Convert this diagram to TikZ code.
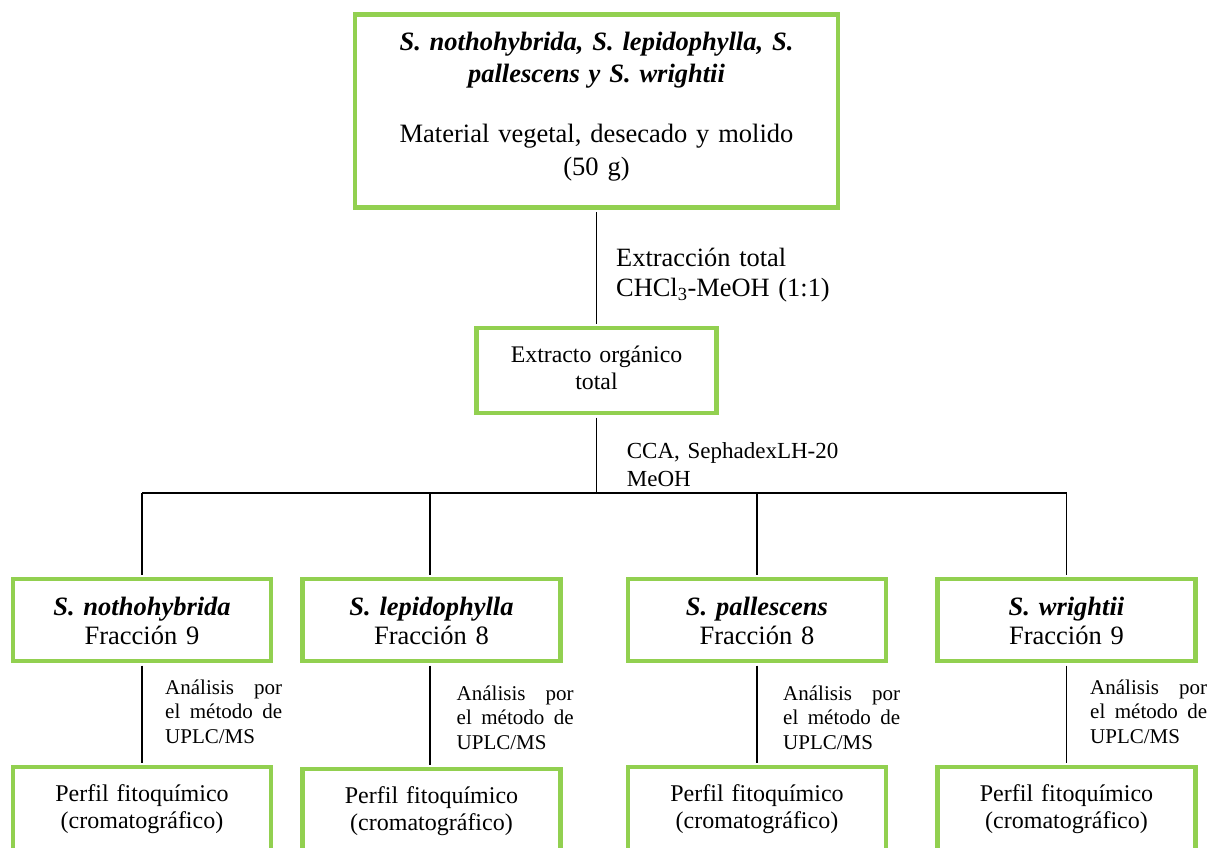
\documentclass[tikz,border=0pt]{standalone}
\usepackage{fontspec}
\setmainfont{Liberation Serif}
\definecolor{leaf}{HTML}{92D050}
\begin{document}
\begin{tikzpicture}[x=1pt,y=-1pt,
  gbox/.style={draw=leaf, line width=4.5pt, rectangle, inner sep=0pt},
  fracbox/.style={gbox, minimum width=258pt, minimum height=82pt},
  profbox/.style={gbox, minimum width=258pt, minimum height=110pt},
  wire/.style={draw=black, line width=1.5pt, shorten <=2.25pt, shorten >=2.25pt},
  busline/.style={draw=black, line width=1.5pt},
  ctext/.style={inner sep=0pt, anchor=base, text width=#1, align=center},
  ltext/.style={inner sep=0pt, anchor=base west, text width=#1, align=left},
  jtext/.style={inner sep=0pt, anchor=base west, text width=117pt, align=justify,
    font=\fontsize{21}{24.5}\selectfont},
]
\useasboundingbox (0,0) rectangle (1211,847);
\clip (0,0) rectangle (1211,847);

% boxes
\node[gbox, minimum width=483pt, minimum height=193pt] (top) at (596.5,111) {};
\node[gbox, minimum width=240pt, minimum height=85pt] (ext) at (596.5,370.5) {};
\node[fracbox] (f1) at (142,620) {};
\node[fracbox] (f2) at (431.5,620) {};
\node[fracbox] (f3) at (757,620) {};
\node[fracbox] (f4) at (1066.5,620) {};
\node[profbox] (p1) at (142,822) {};
\node[profbox] (p2) at (431.5,824) {};
\node[profbox] (p3) at (757,822) {};
\node[profbox] (p4) at (1066.5,822) {};

% texts inside boxes
\node[ctext=470pt, font=\fontsize{26.5}{32.5}\selectfont] (toptxt) at (596.5,50)
  {\textbf{\textit{S. nothohybrida, S. lepidophylla, S.}}\\
   \textbf{\textit{pallescens y S. wrightii}}\\[27.5pt]
   Material vegetal, desecado y molido\\ (50 g)};
\node[ctext=230pt, font=\fontsize{23.8}{27}\selectfont] (exttxt) at (596.5,362)
  {Extracto orgánico\\ total};
\foreach \n/\x/\sp/\fr in {1/142/S. nothohybrida/9, 2/431.5/S. lepidophylla/8,
                           3/757/S. pallescens/8, 4/1066.5/S. wrightii/9}{
  \node[ctext=250pt, font=\fontsize{26.5}{29}\selectfont] (f\n txt) at (\x,615)
    {\textbf{\textit{\sp}}\\ Fracción \fr};
}
\node[ctext=250pt, font=\fontsize{24}{27}\selectfont] (p1txt) at (142,801)
  {Perfil fitoquímico\\ (cromatográfico)};
\node[ctext=250pt, font=\fontsize{24}{27}\selectfont] (p2txt) at (431.5,803)
  {Perfil fitoquímico\\ (cromatográfico)};
\node[ctext=250pt, font=\fontsize{24}{27}\selectfont] (p3txt) at (757,801)
  {Perfil fitoquímico\\ (cromatográfico)};
\node[ctext=250pt, font=\fontsize{24}{27}\selectfont] (p4txt) at (1066.5,801)
  {Perfil fitoquímico\\ (cromatográfico)};

% connectors
\coordinate (busL) at (142,493);
\coordinate (b2) at (430,493);
\draw[wire] (top.south) -- (ext.north);
\draw[wire, shorten >=0pt] (ext.south) -- (ext.south |- busL);
\draw[busline, shorten >=2.25pt] (f1.north |- busL) -- (f4.north |- busL) -- (f4.north);
\draw[busline, shorten >=2.25pt] (f1.north |- busL) -- (f1.north);
\draw[busline, shorten >=2.25pt] (b2) -- (f2.north -| b2);
\draw[busline, shorten >=2.25pt] (f3.north |- busL) -- (f3.north);
\draw[wire] (f1.south) -- (p1.north);
\draw[wire] (f2.south -| b2) -- (p2.north -| b2);
\draw[wire] (f3.south) -- (p3.north);
\draw[wire] (f4.south) -- (p4.north);

% step labels
\node[ltext=260pt, font=\fontsize{26.4}{30}\selectfont] (lab1) at (616,266.7)
  {Extracción total\\ CHCl\textsubscript{3}-MeOH (1:1)};
\node[ltext=260pt, font=\fontsize{23}{28.5}\selectfont] (lab2) at (626.7,458.3)
  {CCA, SephadexLH-20\\ MeOH};
\node[jtext] (u1) at (165,694) {Análisis por\linebreak el método de\linebreak UPLC/MS};
\node[jtext] (u2) at (456.5,700) {Análisis por\linebreak el método de\linebreak UPLC/MS};
\node[jtext] (u3) at (783,700) {Análisis por\linebreak el método de\linebreak UPLC/MS};
\node[jtext] (u4) at (1090,694) {Análisis por\linebreak el método de\linebreak UPLC/MS};
\end{tikzpicture}
\end{document}
